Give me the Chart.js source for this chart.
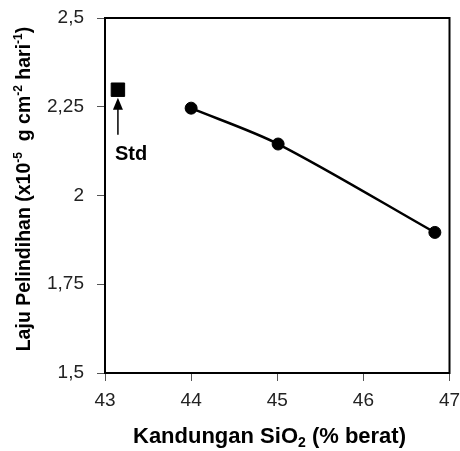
<!DOCTYPE html>
<html>
<head>
<meta charset="utf-8">
<script src="https://cdn.jsdelivr.net/npm/chart.js@4.4.0/dist/chart.umd.min.js"></script>
<style>
  html, body { margin: 0; padding: 0; background: #fff; }
  #wrap { width: 460px; height: 451px; }
</style>
</head>
<body>
<div id="wrap"><canvas id="c" width="460" height="451"></canvas></div>
<script>
// Leaching rate vs SiO2 content of the glass samples
const silicaContent = [44.0, 45.01, 46.83];
const leachRate = [2.246, 2.145, 1.896];
// Standard sample
const stdSilica = [43.15];
const stdRate = [2.298];
const stdLabel = 'Std';

const xTicks = [43, 44, 45, 46, 47];
const yTicks = [1.5, 1.75, 2, 2.25, 2.5];

// Axis titles as rich-text runs (superscript / subscript)
const xTitle = [{ t: 'Kandungan SiO' }, { t: '2', sub: true }, { t: ' (% berat)' }];
const yTitle = [
  { t: 'Laju Pelindihan (x10' }, { t: '-5', sup: true },
  { t: '  g cm' }, { t: '-2', sup: true },
  { t: ' hari' }, { t: '-1', sup: true }, { t: ')' }
];

const FAMILY = "'Liberation Sans', Arial, sans-serif";

function runFont(run, size) {
  const s = (run.sup || run.sub) ? Math.round(size * 0.62) : size;
  return 'bold ' + s + 'px ' + FAMILY;
}

function drawRich(ctx, runs, size, cx, baseY) {
  let total = 0;
  runs.forEach(r => { ctx.font = runFont(r, size); total += ctx.measureText(r.t).width; });
  let x = cx - total / 2;
  ctx.textAlign = 'left';
  ctx.textBaseline = 'alphabetic';
  runs.forEach(r => {
    ctx.font = runFont(r, size);
    let y = baseY;
    if (r.sup) y -= size * 0.4;
    if (r.sub) y += size * 0.2;
    ctx.fillText(r.t, x, y);
    x += ctx.measureText(r.t).width;
  });
}

const decor = {
  id: 'decor',
  afterDraw(chart) {
    const { ctx, chartArea: a } = chart;
    ctx.save();
    // plot frame
    ctx.strokeStyle = '#000';
    ctx.lineWidth = 2;
    ctx.strokeRect(a.left, a.top, a.right - a.left, a.bottom - a.top);

    // arrow pointing at the standard sample and its label
    const p = chart.getDatasetMeta(1).data[0];
    const tipY = p.y + 8, tailY = p.y + 45;
    ctx.fillStyle = '#000';
    ctx.lineWidth = 1.5;
    ctx.beginPath();
    ctx.moveTo(p.x, tipY + 8);
    ctx.lineTo(p.x, tailY);
    ctx.stroke();
    ctx.beginPath();
    ctx.moveTo(p.x, tipY);
    ctx.lineTo(p.x - 5, tipY + 12);
    ctx.lineTo(p.x + 5, tipY + 12);
    ctx.closePath();
    ctx.fill();
    ctx.font = 'bold 20px ' + FAMILY;
    ctx.textAlign = 'left';
    ctx.textBaseline = 'alphabetic';
    ctx.fillText(stdLabel, p.x - 3, p.y + 70);

    // axis titles
    drawRich(ctx, xTitle, 22, 269.5, 443);
    ctx.translate(29.5, 189);
    ctx.rotate(-Math.PI / 2);
    drawRich(ctx, yTitle, 19.5, 0, 0);
    ctx.restore();
  }
};

const tickFont = { family: FAMILY, size: 19 };
const tickColor = '#222';

new Chart(document.getElementById('c'), {
  type: 'scatter',
  data: {
    datasets: [
      {
        data: silicaContent.map((x, i) => ({ x, y: leachRate[i] })),
        showLine: true,
        borderColor: '#000',
        borderWidth: 2.5,
        tension: 0.3,
        pointStyle: 'circle',
        pointRadius: 6,
        pointBackgroundColor: '#000',
        pointBorderColor: '#000',
        pointBorderWidth: 1
      },
      {
        data: stdSilica.map((x, i) => ({ x, y: stdRate[i] })),
        showLine: false,
        pointStyle: 'rect',
        pointRadius: 9.5,
        pointBackgroundColor: '#000',
        pointBorderColor: '#000',
        pointBorderWidth: 1
      }
    ]
  },
  options: {
    responsive: false,
    animation: false,
    events: [],
    layout: { padding: { top: 18, right: 10, left: 0, bottom: 0 } },
    plugins: { legend: { display: false }, tooltip: { enabled: false } },
    scales: {
      x: {
        type: 'linear',
        min: 43, max: 47,
        afterBuildTicks: s => { s.ticks = xTicks.map(v => ({ value: v })); },
        afterFit: s => { s.height = 78; s.paddingLeft = 0; s.paddingRight = 0; },
        ticks: { font: tickFont, color: tickColor, padding: 8, maxRotation: 0 },
        grid: { drawOnChartArea: false, drawTicks: true, tickLength: 8, color: '#555', lineWidth: 1 },
        border: { display: false }
      },
      y: {
        type: 'linear',
        min: 1.5, max: 2.5,
        afterBuildTicks: s => { s.ticks = yTicks.map(v => ({ value: v })); },
        afterFit: s => { s.width = 105; s.paddingTop = 0; s.paddingBottom = 0; },
        ticks: {
          font: tickFont, color: tickColor, padding: 13,
          callback: v => String(v).replace('.', ',')
        },
        grid: { drawOnChartArea: false, drawTicks: true, tickLength: 8, color: '#555', lineWidth: 1 },
        border: { display: false }
      }
    }
  },
  plugins: [decor]
});
</script>
</body>
</html>
